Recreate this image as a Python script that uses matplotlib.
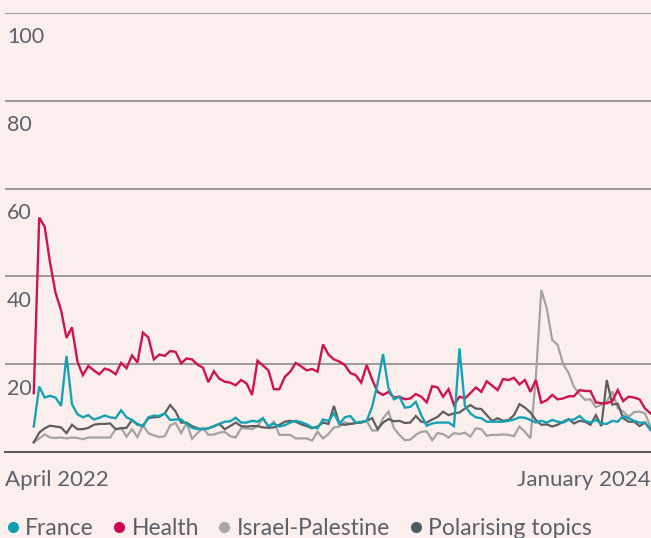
import numpy as np
import matplotlib
matplotlib.use("Agg")
import matplotlib.pyplot as plt
from matplotlib.lines import Line2D

# Share of coverage by topic, one value per period (April 2022 -> January 2024)
health = [13.4, 53.4, 51.3, 43, 36.2, 32.3, 26, 28.4, 20.6, 17.5,
          19.6, 18.6, 17.7, 19, 18.6, 17.7, 20.3, 19.1, 22, 20.4,
          27.2, 26.1, 21.1, 22.2, 21.9, 23, 22.8, 20.2, 21.3, 21.1,
          19.9, 19.2, 15.9, 18.4, 16.7, 16, 15.8, 15.2, 16.4, 15.6,
          13, 20.8, 19.7, 18.6, 14.3, 14.3, 17.1, 18.3, 20.3, 19.5,
          18.6, 18.9, 18.3, 24.5, 22.2, 21.1, 20.6, 19.8, 18, 17.5,
          15.8, 19.8, 16.5, 13.7, 13, 13.7, 12.4, 12.6, 12, 12.2,
          13.2, 12.6, 11.3, 15, 14.7, 12.6, 14.3, 10.7, 12.6, 12.2,
          13.4, 14.7, 13.7, 16.1, 15.1, 14.1, 16.6, 16.4, 16.9, 15.4,
          16.4, 13.7, 16.4, 11.2, 11.8, 13, 12, 12.2, 12.7, 12.7,
          14.1, 13.9, 13.9, 11.3, 11.1, 11.1, 11.6, 14.1, 11.6, 12.6,
          12.4, 12, 9.9, 8.8]

france = [5.8, 14.9, 12.4, 12.8, 12.4, 10.5, 21.9, 10.9, 8.6, 7.9,
          8.4, 7.4, 7.8, 8.3, 7.9, 7.7, 9.5, 7.9, 7.3, 6.4,
          5.9, 7.9, 8.3, 8.2, 8.8, 7.3, 7.4, 7.4, 6.4, 5.5,
          5.2, 5.2, 5.4, 5.8, 6.4, 6.9, 7.0, 7.8, 6.7, 6.7,
          7.1, 6.9, 7.7, 5.8, 6.5, 5.8, 6.1, 6.7, 7.1, 6.8,
          6.3, 5.6, 5.4, 7.4, 7.1, 8.8, 6.4, 7.9, 8.2, 6.7,
          6.9, 7.1, 10.3, 15.6, 22.3, 14.5, 12.0, 12.6, 10.1, 10.3,
          11.4, 8.4, 6.0, 6.5, 6.7, 6.7, 6.7, 5.9, 23.6, 10.5,
          8.8, 7.9, 7.7, 6.9, 6.9, 6.9, 6.9, 7.1, 7.4, 7.9,
          7.8, 7.3, 6.7, 7.1, 6.7, 7.3, 6.9, 6.7, 7.3, 7.4,
          8.2, 7.1, 6.7, 7.3, 6.5, 6.4, 7.1, 6.9, 8.2, 7.7,
          7.1, 6.7, 6.7, 5.0]

israel = [2.2, 3.1, 4.0, 3.3, 3.2, 3.3, 3.1, 3.3, 3.2, 2.9,
          3.3, 3.3, 3.3, 3.3, 3.3, 5.2, 5.5, 3.5, 5.2, 3.4,
          6.1, 4.3, 3.8, 3.4, 3.6, 6.1, 6.6, 4.3, 6.6, 3.0,
          4.3, 5.5, 3.9, 4.0, 4.4, 4.6, 3.6, 3.3, 5.4, 5.4,
          5.2, 5.9, 7.7, 5.8, 6.9, 3.9, 3.9, 3.9, 3.1, 3.1,
          3.1, 2.6, 4.6, 3.1, 4.1, 5.6, 5.8, 6.8, 6.4, 6.6,
          6.7, 7.1, 4.9, 4.9, 7.7, 9.2, 5.4, 3.9, 2.7, 2.8,
          3.9, 4.6, 4.7, 2.7, 4.3, 4.1, 3.3, 4.3, 4.1, 4.4,
          3.5, 5.4, 5.2, 3.7, 3.9, 3.9, 4.0, 3.9, 3.6, 5.8,
          4.6, 3.1, 17.0, 36.9, 32.7, 25.5, 24.4, 20.0, 18.0, 14.8,
          13.2, 11.9, 12.0, 10.2, 10.8, 11.5, 13.8, 10.0, 9.2, 8.0,
          9.1, 9.2, 8.8, 5.8]

polarising = [2.2, 4.4, 5.4, 6.0, 5.8, 5.6, 4.3, 6.2, 5.2, 5.2,
              5.5, 6.2, 6.4, 6.4, 6.5, 5.2, 5.4, 5.5, 7.3, 6.2,
              5.9, 7.7, 7.9, 8.0, 8.8, 10.7, 9.2, 6.7, 6.7, 5.9,
              5.4, 5.2, 5.4, 5.9, 6.4, 5.2, 5.9, 6.7, 5.9, 5.8,
              5.9, 5.9, 5.6, 5.5, 5.6, 6.2, 6.9, 7.1, 6.9, 6.3,
              5.9, 5.4, 5.8, 6.7, 6.4, 10.5, 6.4, 6.2, 6.4, 6.6,
              6.7, 7.1, 7.7, 5.2, 6.7, 7.5, 7.0, 7.1, 6.6, 6.7,
              8.2, 6.9, 6.7, 7.4, 8.0, 9.2, 8.4, 8.8, 9.0, 9.9,
              10.7, 9.9, 9.8, 8.4, 7.1, 7.7, 7.1, 7.3, 8.4, 10.9,
              10.1, 9.0, 7.3, 6.2, 6.3, 5.8, 6.2, 6.9, 7.5, 6.5,
              7.1, 6.9, 6.2, 8.4, 5.9, 16.4, 10.8, 11.0, 7.7, 6.9,
              6.9, 5.9, 6.7, 5.2]

series_names = ["France", "Health", "Israel-Palestine", "Polarising topics"]
line_colors = ["#17a2b4", "#cc1450", "#a3a3a3", "#5e5e5e"]
dot_colors = ["#0f9fb1", "#cc0a4f", "#a6a6a6", "#4f5a63"]
x_labels = ["April 2022", "January 2024"]
y_ticks = [20, 40, 60, 80, 100]

bg = "#fbefee"
txt = "#5d6068"
plt.rcParams["font.family"] = ["Lato", "DejaVu Sans"]

x = np.arange(len(health))

fig = plt.figure(figsize=(6.51, 5.38), dpi=100, facecolor=bg)
ax = fig.add_axes([5 / 651, 1 - 452 / 538, 646 / 651, 439 / 538], facecolor=bg)

x_lo, x_hi = -5.27, 113.1
ax.set_xlim(x_lo, x_hi)
ax.set_ylim(0, 100)

for v in y_ticks:
    ax.axhline(v, color="#8c8b8c", lw=1.2, zorder=1)
    ax.annotate(str(v), xy=(0, v), xycoords=("axes fraction", "data"),
                xytext=(1.5, -17.5), textcoords="offset points",
                ha="left", va="center", fontsize=15.5, color=txt)
ax.axhline(0, color="#5a5658", lw=1.4, zorder=1, clip_on=False)

# drawing order: greys first, then the coloured topics on top
ax.plot(x, israel, color=line_colors[2], lw=1.6, zorder=2, solid_joinstyle="miter")
ax.plot(x, polarising, color=line_colors[3], lw=1.6, zorder=3, solid_joinstyle="miter")
ax.plot(x, health, color=line_colors[1], lw=1.7, zorder=4, solid_joinstyle="miter")
ax.plot(x, france, color=line_colors[0], lw=1.7, zorder=5, solid_joinstyle="miter")

ax.set_xticks([x_lo, x_hi])
ax.set_xticklabels(x_labels, fontsize=16, color=txt)
ax.get_xticklabels()[0].set_ha("left")
ax.get_xticklabels()[1].set_ha("right")
ax.tick_params(axis="x", length=0, pad=13)
ax.set_yticks([])
for s in ax.spines.values():
    s.set_visible(False)

handles = [Line2D([], [], marker="o", ls="none", markersize=7,
                  markerfacecolor=c, markeredgecolor=c) for c in dot_colors]
fig.legend(handles, series_names, loc="lower left", bbox_to_anchor=(0.0, -0.014),
           ncol=4, frameon=False, fontsize=16.5, labelcolor=txt,
           handlelength=0.5, handletextpad=0.3, columnspacing=0.85,
           borderaxespad=0.1, borderpad=0.2)

fig.savefig("out.png", dpi=100, facecolor=bg)
